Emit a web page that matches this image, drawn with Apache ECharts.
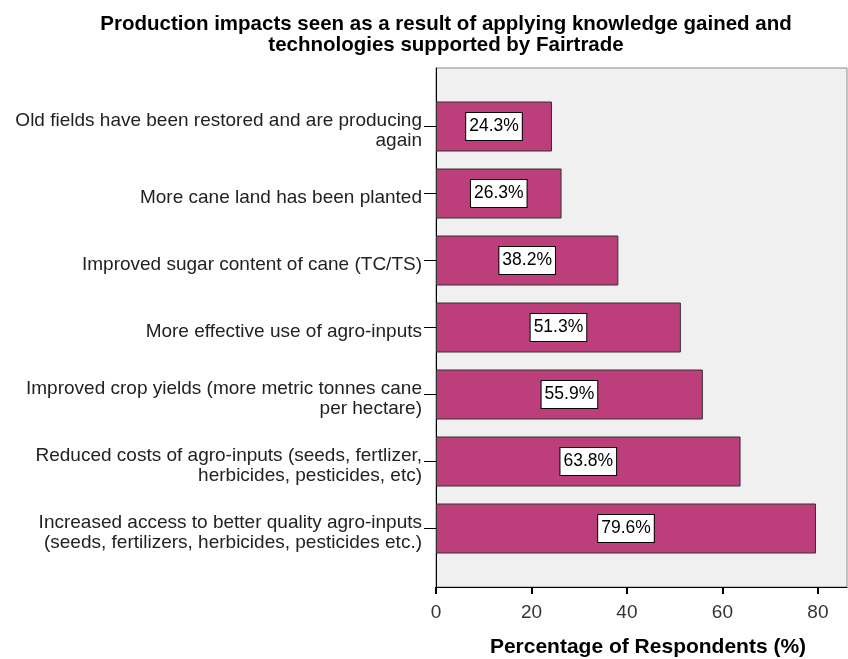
<!DOCTYPE html>
<html>
<head>
    <meta charset="utf-8">
    <title>Production impacts</title>
    <script src="https://cdn.jsdelivr.net/npm/echarts@6/dist/echarts.min.js"></script>
    <style>
        html, body { margin: 0; padding: 0; background: #fff; }
    </style>
</head>
<body>
<div id="chart" style="width: 848px; height: 659px;"></div>
<script type="text/javascript">
    // categories, top to bottom
    var categories = [
        'Old fields have been restored and are producing\nagain',
        'More cane land has been planted',
        'Improved sugar content of cane (TC/TS)',
        'More effective use of agro-inputs',
        'Improved crop yields (more metric tonnes cane\nper hectare)',
        'Reduced costs of agro-inputs (seeds, fertlizer,\nherbicides, pesticides, etc)',
        'Increased access to better quality agro-inputs\n(seeds, fertilizers, herbicides, pesticides etc.)'
    ];
    var percents = [24.3, 26.3, 38.2, 51.3, 55.9, 63.8, 79.6];
    var tickValues = [0, 20, 40, 60, 80];

    var font = "'Liberation Sans', Arial, sans-serif";
    var myChart = echarts.init(document.getElementById('chart'));

    myChart.setOption({
        animation: false,
        title: {
            text: 'Production impacts seen as a result of applying knowledge gained and\ntechnologies supported by Fairtrade',
            left: 441,
            top: 9,
            textAlign: 'center',
            textStyle: {
                fontFamily: font,
                fontSize: 20.5,
                fontWeight: 'bold',
                color: '#000',
                lineHeight: 21
            }
        },
        grid: [
            // frame with grey background
            {left: 436, right: 1, top: 68, bottom: 72, show: true, outerBoundsMode: 'none',
                backgroundColor: '#f0f0f0', borderColor: '#8a8a8a', borderWidth: 1},
            // bars
            {left: 436, right: 1, top: 93, bottom: 97, outerBoundsMode: 'none'}
        ],
        xAxis: [
            {
                gridIndex: 0,
                type: 'value',
                min: 0,
                max: 86.1,
                interval: 20,
                axisLine: {show: true, lineStyle: {color: '#000', width: 1}},
                axisTick: {show: true, length: 7, lineStyle: {color: '#000', width: 2}},
                splitLine: {show: false},
                axisLabel: {
                    showMaxLabel: false,
                    margin: 16,
                    color: '#333',
                    fontFamily: font,
                    fontSize: 19,
                    formatter: function (v) {
                        return tickValues.indexOf(v) >= 0 ? String(v) : '';
                    }
                },
                name: 'Percentage of Respondents (%)',
                nameLocation: 'middle',
                nameGap: 50,
                nameTextStyle: {
                    fontFamily: font,
                    fontSize: 21,
                    fontWeight: 'bold',
                    color: '#000',
                    padding: [0, 0, 0, 13]
                }
            },
            {
                gridIndex: 1,
                type: 'value',
                min: 0,
                max: 86.1,
                show: false
            }
        ],
        yAxis: [
            {
                gridIndex: 0,
                type: 'value',
                axisLine: {show: true, onZero: false, lineStyle: {color: '#000', width: 1}},
                axisTick: {show: false},
                axisLabel: {show: false},
                splitLine: {show: false}
            },
            {
                gridIndex: 1,
                type: 'category',
                inverse: true,
                data: categories,
                axisLine: {show: false},
                axisTick: {show: true, alignWithLabel: true, length: 12, lineStyle: {color: '#000'}},
                axisLabel: {
                    margin: 14,
                    color: '#222',
                    fontFamily: font,
                    fontSize: 19,
                    // a thin empty first line nudges the text a little below the tick
                    formatter: function (v) {
                        return '{s| }\n' + v.split('\n').map(function (t) {
                            return '{a|' + t + '}';
                        }).join('\n');
                    },
                    rich: {
                        s: {fontSize: 1, lineHeight: 8},
                        a: {fontSize: 19, lineHeight: 20, color: '#222', fontFamily: font}
                    }
                }
            }
        ],
        series: [
            {
                type: 'bar',
                xAxisIndex: 1,
                yAxisIndex: 1,
                data: percents,
                barWidth: 50,
                itemStyle: {color: '#bc3e7b', borderColor: '#333', borderWidth: 1},
                label: {
                    show: true,
                    position: 'inside',
                    formatter: '{c}%',
                    color: '#000',
                    fontFamily: font,
                    fontSize: 17.5,
                    backgroundColor: '#fff',
                    borderColor: '#000',
                    borderWidth: 1,
                    padding: [5, 3, 4, 3]
                }
            }
        ]
    });
</script>
</body>
</html>
